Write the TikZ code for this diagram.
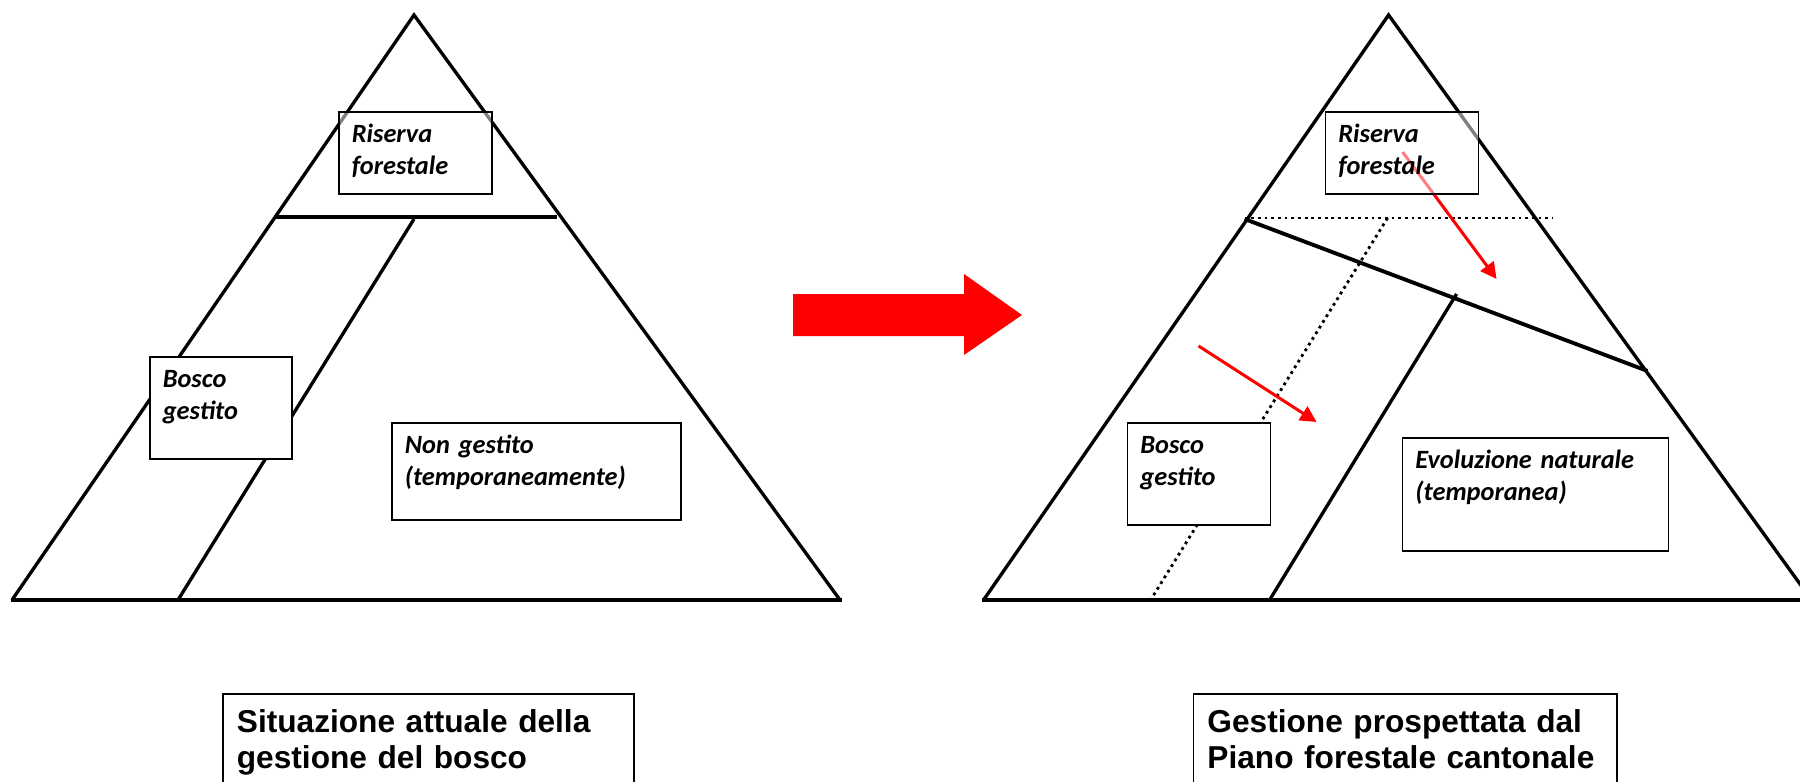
\documentclass[tikz,border=0pt]{standalone}
\usepackage{fontspec}
\newfontfamily\zonefamily{Carlito}
\newfontfamily\capfamily{Liberation Sans}
\usetikzlibrary{arrows.meta}
\tikzset{
  pyramid edge/.style={draw=black,line width=0.95pt,line join=miter},
  pyramid base/.style={draw=black,line width=1.25pt},
  split line/.style={draw=black,line width=1.1pt},
  future line/.style={draw=black,line width=0.8pt,dash pattern=on 0.8pt off 1.1pt},
  shift arrow/.style={draw=red,line width=0.85pt,-{Triangle[length=4.6pt,width=4.6pt]}},
  zone box/.style={draw=black,line width=0.45pt,fill=white,anchor=north west,
    inner xsep=0.13cm,inner ysep=0pt,text height=0.31cm,align=left,
    font=\zonefamily\fontsize{7.5pt}{9.1pt}\selectfont\bfseries\itshape},
  glass box/.style={zone box,fill opacity=0.5,text opacity=1},
  caption box/.style={draw=black,line width=0.5pt,fill=white,anchor=north west,
    inner xsep=0.14cm,inner ysep=0pt,text height=0.39cm,text depth=1.2cm,align=left,
    font=\capfamily\fontsize{9pt}{10pt}\selectfont\bfseries}
}

\begin{document}
\begin{tikzpicture}[x=0.01cm,y=-0.01cm]
  \clip (0,0) rectangle (1800,782);
  \fill[white] (0,0) rectangle (1800,782);

  % current situation
  \begin{scope}
    \coordinate (L apex) at (414,15);
    \coordinate (L left) at (12,600);
    \coordinate (L right) at (840,600);
    \draw[pyramid edge] (L left) -- (L apex) -- (L right);
    \draw[pyramid base] (11,600) -- (842,600);
    \draw[split line] (274,217) -- (557,217);
    \draw[pyramid edge] (414,219) -- (178,600);
    \node[glass box,text width=1.27cm,text depth=0.51cm] (L reserve) at (338,111) {Riserva\\forestale};
    \node[zone box,text width=1.16cm,text depth=0.71cm] (L managed) at (149,356) {Bosco\\gestito};
    \node[zone box,text width=2.63cm,text depth=0.66cm] (L unmanaged) at (391,422) {Non gestito\\(temporaneamente)};
    \node[caption box,text width=3.83cm] (L caption) at (222,693) {Situazione attuale della\\gestione del bosco};
  \end{scope}

  % transition arrow
  \fill[red] (793,294) -- (964,294) -- (964,274) -- (1022,315)
    -- (964,355) -- (964,336) -- (793,336) -- cycle;

  % planned management
  \begin{scope}[xshift=9.74cm]
    \coordinate (R apex) at (414,15);
    \coordinate (R left) at (9,600);
    \coordinate (R right) at (837,600);
    \draw[pyramid edge] (R left) -- (R apex) -- (R right);
    \draw[pyramid base] (7,600) -- (860,600);
    \draw[future line] (270,218) -- (578,218);
    \draw[future line] (413,218) -- (176,600);
    \draw[split line] (270,219) -- (673,371);
    \draw[pyramid edge] (482,294) -- (295,600);
    \coordinate (reserve from) at (428,152);
    \coordinate (reserve to) at (522,279);
    \coordinate (managed from) at (224,346);
    \coordinate (managed to) at (342,422);
    \draw[shift arrow] (reserve from) -- (reserve to);
    \draw[shift arrow] (managed from) -- (managed to);
    \node[glass box,text width=1.27cm,text depth=0.51cm] (R reserve) at (350,111) {Riserva\\forestale};
    \node[zone box,text width=1.17cm,text depth=0.71cm] (R managed) at (152,422) {Bosco\\gestito};
    \node[zone box,text width=2.40cm,text depth=0.82cm] (R natural) at (427,437) {Evoluzione naturale\\(temporanea)};
    \node[caption box,text width=3.95cm] (R caption) at (218,693) {Gestione prospettata dal\\Piano forestale cantonale};
  \end{scope}
\end{tikzpicture}
\end{document}
